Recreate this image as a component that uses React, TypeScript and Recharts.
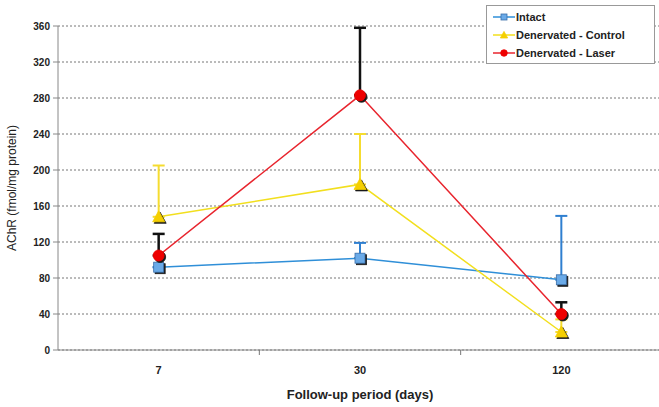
import { LineChart, Line, XAxis, YAxis, CartesianGrid, ErrorBar, Legend } from 'recharts'

const days = ['7', '30', '120']
const intact = [92, 102, 78]
const intactErr = [0, 17, 71]
const control = [148, 184, 20]
const controlErr = [57, 56, 14]
const laser = [105, 283, 40]
const laserErr = [24, 75, 13]
const yTicks = [0, 40, 80, 120, 160, 200, 240, 280, 320, 360]

const FONT = '"Liberation Sans", Arial, sans-serif'

const data = days.map((d, i) => ({
  day: d,
  intact: intact[i],
  intactErr: [0, intactErr[i]],
  control: control[i],
  controlErr: [0, controlErr[i]],
  laser: laser[i],
  laserErr: [0, laserErr[i]],
}))

const SERIES = [
  { key: 'intact', name: 'Intact', line: '#2f8fd8', fill: '#6aaae8', err: '#2f7fd0', shape: 'square' },
  { key: 'control', name: 'Denervated  - Control', line: '#f2df1e', fill: '#f5cf00', err: '#f5dc30', shape: 'triangle' },
  { key: 'laser', name: 'Denervated  - Laser', line: '#e8252e', fill: '#ee0000', err: '#111111', shape: 'circle' },
]

function Marker({ cx, cy, shape, fill, shadow = true, s = 1 }: any) {
  const draw = (x: number, y: number, f: string, stroke: string) => {
    if (shape === 'square') return <rect x={x - 5 * s} y={y - 5 * s} width={10 * s} height={10 * s} fill={f} stroke={stroke} strokeWidth={0.8} />
    if (shape === 'triangle') return <polygon points={`${x},${y - 6 * s} ${x + 6 * s},${y + 5 * s} ${x - 6 * s},${y + 5 * s}`} fill={f} stroke={stroke} strokeWidth={0.8} />
    return <circle cx={x} cy={y} r={5.5 * s} fill={f} stroke={stroke} strokeWidth={0.8} />
  }
  return (
    <g>
      {shadow && draw(cx + 1.5, cy + 1.5, '#1a1a1a', '#1a1a1a')}
      {draw(cx, cy, fill, shape === 'square' ? '#3a6ea8' : fill)}
    </g>
  )
}

function XTick({ x, y, payload, index }: any) {
  const off = payload.offset || 0
  return (
    <g>
      {index < days.length - 1 && <line x1={x + off} y1={y} x2={x + off} y2={y + 5} stroke="#777" />}
      <text x={x} y={y + 24} textAnchor="middle" fontFamily={FONT} fontWeight="bold" fontSize={11} fill="#222">
        {payload.value}
      </text>
    </g>
  )
}

function LegendBox() {
  return (
    <div style={{ border: '1px solid #999', background: '#fff', padding: '2px 0 1px 6px', fontFamily: FONT, fontWeight: 'bold', fontSize: 11, color: '#222' }}>
      {SERIES.map(s => (
        <div key={s.key} style={{ display: 'flex', alignItems: 'center', height: 18 }}>
          <svg width={22} height={12}>
            <line x1={0} y1={6} x2={22} y2={6} stroke={s.line} strokeWidth={1.5} />
            <Marker cx={11} cy={6} shape={s.shape} fill={s.fill} shadow={false} s={0.6} />
          </svg>
          <span style={{ marginLeft: 1 }}>{s.name}</span>
        </div>
      ))}
    </div>
  )
}

export default function App() {
  return (
    <div style={{ position: 'absolute', left: 0, top: 0, width: 659, height: 407, overflow: 'hidden', background: '#fff' }}>
      <LineChart width={662} height={407} data={data} margin={{ top: 26, right: 0, bottom: 0, left: 0 }}>
        <CartesianGrid vertical={false} strokeDasharray="2 2" stroke="#777" />
        <XAxis
          dataKey="day"
          scale="band"
          height={57}
          tickSize={0}
          tickMargin={0}
          tickLine={false}
          axisLine={{ stroke: '#888' }}
          tick={<XTick />}
          label={{ value: 'Follow-up period (days)', position: 'insideBottom', offset: 8, fontFamily: FONT, fontWeight: 'bold', fontSize: 13, fill: '#222' }}
        />
        <YAxis
          width={58}
          domain={[0, 360]}
          ticks={yTicks}
          interval={0}
          tickSize={5}
          tickMargin={3}
          axisLine={{ stroke: '#888' }}
          tickLine={{ stroke: '#888' }}
          tick={{ fontFamily: FONT, fontWeight: 'bold', fontSize: 10, fill: '#222' }}
          label={{ value: 'AChR (fmol/mg protein)', angle: -90, position: 'insideLeft', offset: 12, style: { textAnchor: 'middle' }, fontFamily: FONT, fontSize: 12, fill: '#222' }}
        />
        <Legend
          verticalAlign="middle"
          align="center"
          layout="horizontal"
          wrapperStyle={{ top: 5, left: 486, width: 169 }}
          content={<LegendBox />}
        />
        {SERIES.map(s => (
          <Line
            key={s.key}
            dataKey={s.key}
            name={s.name}
            type="linear"
            stroke={s.line}
            strokeWidth={1.5}
            isAnimationActive={false}
            dot={(p: any) => <Marker key={`${s.key}-${p.index}`} cx={p.cx} cy={p.cy} shape={s.shape} fill={s.fill} />}
            activeDot={false}
          >
            <ErrorBar dataKey={`${s.key}Err`} width={6} stroke={s.err} strokeWidth={s.key === 'laser' ? 2.5 : 2} direction="y" />
          </Line>
        ))}
      </LineChart>
    </div>
  )
}
